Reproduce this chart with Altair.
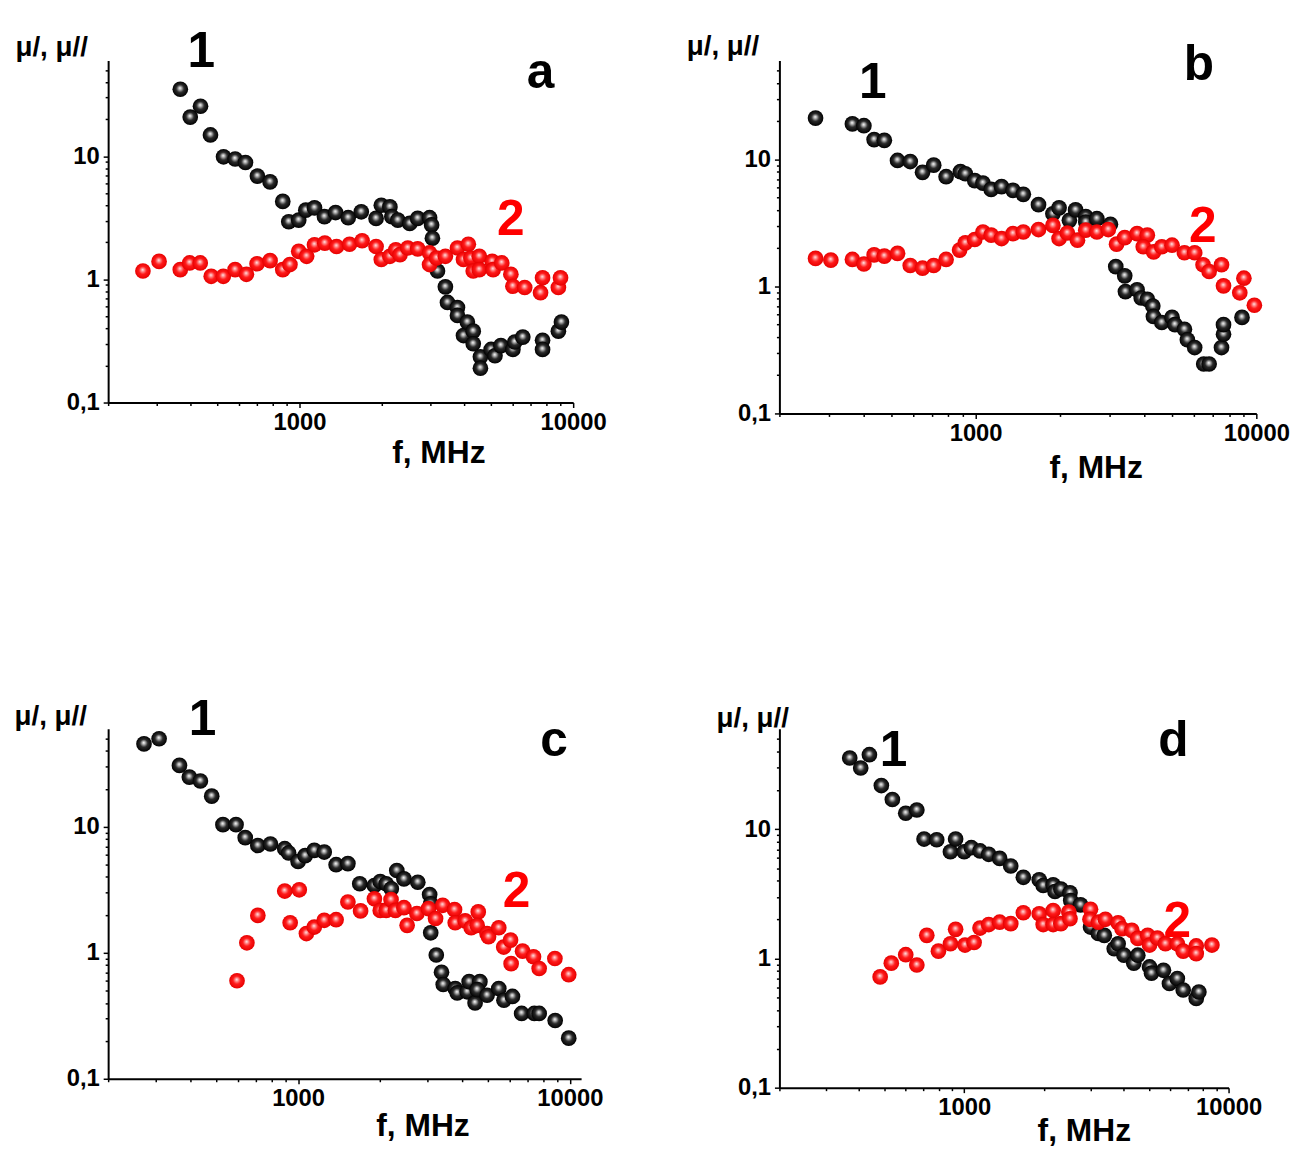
import altair as alt
import pandas as pd

# ---------------- data ----------------
a_f1 = [367, 399, 435, 473, 528, 582, 635, 702, 781, 869, 914, 994, 1055, 1135, 1234, 1355, 1507, 1682, 1905, 1991,
        2140, 2176, 2288, 2529, 2704, 2988, 3039, 3060, 3194, 3413, 3474, 3778, 3778, 3975, 4105, 4314, 4314, 4583, 4583,
        5016, 5180, 5445, 6022, 6120, 6545, 7730, 7730, 8830, 9060]
a_m1 = [35, 20.8, 25.5, 14.9, 9.9, 9.5, 8.9, 6.9, 6.2, 4.3, 2.94, 3.03, 3.65, 3.81, 3.23, 3.49, 3.17, 3.54, 3.13, 4.0,
        3.88, 3.23, 3.03, 2.85, 3.13, 3.17, 2.77, 2.16, 1.17, 0.87, 0.65, 0.59, 0.51, 0.35, 0.45, 0.38, 0.30, 0.235, 0.19,
        0.27, 0.24, 0.29, 0.27, 0.31, 0.34, 0.32, 0.27, 0.38, 0.45]
a_f2 = [268, 307, 367, 397, 434, 476, 527, 582, 640, 700, 781, 869, 923, 994, 1062, 1135, 1238, 1366, 1524, 1694,
        1905, 1991, 2140, 2249, 2330, 2488, 2704, 2988, 2988, 3170, 3413, 3778, 3975, 4140, 4230, 4314, 4540, 4540, 5060,
        5100, 5485, 5920, 6022, 6650, 7600, 7730, 8830, 8990]
a_m2 = [1.17, 1.40, 1.20, 1.36, 1.36, 1.06, 1.06, 1.20, 1.10, 1.34, 1.42, 1.20, 1.32, 1.69, 1.54, 1.91, 1.97, 1.85, 1.93,
        2.06, 1.85, 1.45, 1.54, 1.74, 1.59, 1.80, 1.77, 1.64, 1.32, 1.49, 1.54, 1.80, 1.45, 1.93, 1.49, 1.17, 1.54, 1.20,
        1.40, 1.20, 1.36, 1.10, 0.88, 0.86, 0.78, 1.03, 0.86, 1.03]

b_f1 = [269, 364, 400, 435, 473, 527, 585, 647, 709, 785, 883, 919, 993, 1062, 1136, 1237, 1359, 1479, 1675, 1885,
        1983, 2158, 2270, 2468, 2468, 2704, 3022, 3157, 3398, 3418, 3760, 3890, 4090, 4277, 4300, 4605, 5010, 5130, 5545,
        5680, 6030, 6495, 6790, 7515, 7640, 7640, 8890]
b_m1 = [21.1, 19.0, 18.4, 14.3, 14.1, 9.8, 9.6, 7.9, 9.0, 7.3, 8.0, 7.7, 6.8, 6.5, 5.8, 6.1, 5.7, 5.3, 4.4, 3.73,
        4.15, 3.31, 4.0, 3.55, 3.21, 3.41, 3.08, 1.43, 1.21, 0.91, 0.94, 0.81, 0.79, 0.70, 0.58, 0.52, 0.57, 0.50, 0.46,
        0.38, 0.33, 0.245, 0.245, 0.33, 0.42, 0.50, 0.57]
b_f2 = [269, 305, 364, 400, 435, 473, 527, 585, 647, 709, 785, 877, 919, 993, 1062, 1136, 1237, 1359, 1479, 1675,
        1885, 1983, 2122, 2306, 2468, 2704, 2970, 3178, 3398, 3760, 4090, 3955, 4306, 4605, 5010, 5545, 6030, 6460, 6790,
        7515, 7640, 8730, 9030, 9840]
b_m2 = [1.66, 1.61, 1.63, 1.50, 1.77, 1.73, 1.82, 1.46, 1.39, 1.46, 1.63, 1.93, 2.20, 2.34, 2.68, 2.53, 2.38, 2.60, 2.68,
        2.80, 3.02, 2.38, 2.63, 2.31, 2.77, 2.68, 2.80, 2.15, 2.42, 2.60, 2.53, 2.05, 1.87, 2.05, 2.11, 1.84, 1.84, 1.48,
        1.31, 1.48, 1.01, 0.89, 1.16, 0.71]

c_f1 = [271, 308, 366, 398, 437, 481, 529, 591, 639, 711, 791, 893, 923, 1000, 1062, 1147, 1248, 1380, 1525, 1686,
        1909, 2006, 2109, 2203, 2308, 2452, 2757, 3048, 3076, 3076, 3225, 3371, 3420, 3786, 3851, 4191, 4260, 4480, 4666,
        4560, 4959, 5476, 5720, 6150, 6647, 7400, 7710, 8830, 9905]
c_m1 = [45.5, 50, 30.7, 24.8, 23.1, 17.5, 10.4, 10.4, 8.2, 7.1, 7.3, 6.7, 6.2, 5.3, 5.9, 6.5, 6.3, 5.0, 5.1, 3.53,
        3.42, 3.68, 3.53, 3.22, 4.5, 3.86, 3.63, 2.90, 2.45, 1.44, 0.96, 0.70, 0.56, 0.52, 0.48, 0.49, 0.59, 0.40, 0.59,
        0.51, 0.46, 0.52, 0.42, 0.45, 0.33, 0.33, 0.33, 0.29, 0.21]
c_f2 = [596, 648, 711, 893, 935, 1010, 1073, 1147, 1248, 1380, 1525, 1698, 1909, 2006, 2109, 2198, 2281, 2452, 2519,
        2736, 3019, 3205, 3404, 3764, 3786, 4120, 4335, 4602, 4560, 4959, 5020, 5476, 5710, 6050, 6080, 6700, 7350, 7710,
        8810, 9905]
c_m2 = [0.60, 1.20, 1.98, 3.09, 1.73, 3.16, 1.42, 1.60, 1.81, 1.83, 2.53, 2.15, 2.68, 2.17, 2.17, 2.64, 2.17, 2.28, 1.65,
        2.05, 2.24, 1.87, 2.38, 2.20, 1.73, 1.79, 1.58, 2.11, 1.65, 1.42, 1.34, 1.58, 1.11, 1.26, 0.82, 1.03, 0.93, 0.75,
        0.90, 0.67]

d_f1 = [369, 406, 438, 486, 535, 601, 662, 705, 787, 887, 928, 1000, 1064, 1148, 1238, 1362, 1500, 1674, 1922, 1990,
        2170, 2205, 2321, 2513, 2529, 2755, 3005, 3217, 3388, 3694, 3822, 4021, 4382, 4536, 5025, 5112, 5672, 5976, 6400,
        6736, 7546, 7722]
d_m1 = [35.6, 29.8, 37.8, 21.8, 17.0, 13.3, 14.1, 8.4, 8.3, 6.7, 8.4, 6.7, 7.2, 6.8, 6.4, 5.95, 5.2, 4.25, 4.07, 3.67,
        3.71, 3.30, 3.45, 3.22, 2.81, 2.60, 1.75, 1.56, 1.51, 1.19, 1.30, 1.06, 0.92, 1.06, 0.86, 0.77, 0.81, 0.64, 0.70,
        0.57, 0.49, 0.55]
d_f2 = [481, 530, 601, 662, 722, 799, 887, 928, 1007, 1090, 1148, 1238, 1362, 1500, 1674, 1922, 1990, 2170, 2170, 2321,
        2488, 2513, 3005, 2990, 3217, 3420, 3822, 3954, 4306, 4536, 4944, 5025, 5380, 5770, 6400, 6736, 7546, 7546, 8650]
d_m2 = [0.72, 0.92, 1.07, 0.89, 1.51, 1.14, 1.30, 1.68, 1.27, 1.33, 1.72, 1.83, 1.91, 1.86, 2.26, 2.22, 1.83, 2.35, 1.83,
        1.86, 2.29, 2.03, 2.40, 2.01, 1.91, 2.01, 1.89, 1.70, 1.65, 1.43, 1.51, 1.27, 1.44, 1.30, 1.30, 1.14, 1.25, 1.09,
        1.27]

# annotation texts and their data positions
panel_letters = ["a", "b", "c", "d"]
letter_pos = [(7600, 47), (6240, 55), (8750, 47.7), (6180, 47.8)]
one_pos = [(438, 70), (430, 39.6), (445, 70.8), (540, 40)]
two_pos = [(5920, 3.03), (6450, 2.94), (6370, 3.03), (6400, 1.91)]

x_ticks = [200, 300, 400, 500, 600, 700, 800, 900, 1000, 2000, 3000, 4000, 5000, 6000, 7000, 8000, 9000, 10000]
y_ticks = [0.1, 0.2, 0.3, 0.4, 0.5, 0.6, 0.7, 0.8, 0.9, 1, 2, 3, 4, 5, 6, 7, 8, 9, 10, 20, 30, 40, 50]
x_title = "f, MHz"
y_title = "μ/, μ//"

FONT = "Liberation Sans"

BLACK_BALL = {"gradient": "radial", "x1": 0.48, "y1": 0.42, "r1": 0, "x2": 0.5, "y2": 0.5, "r2": 0.5,
              "stops": [{"offset": 0, "color": "#ffffff"}, {"offset": 0.18, "color": "#b8b8b8"},
                        {"offset": 0.5, "color": "#2a2a2a"}, {"offset": 1, "color": "#000000"}]}
RED_BALL = {"gradient": "radial", "x1": 0.48, "y1": 0.42, "r1": 0, "x2": 0.5, "y2": 0.5, "r2": 0.5,
            "stops": [{"offset": 0, "color": "#ffeeee"}, {"offset": 0.2, "color": "#ff9090"},
                      {"offset": 0.5, "color": "#ff1a1a"}, {"offset": 1, "color": "#e60000"}]}


def panel(f1, m1, f2, m2, idx, xdomain, width, height, xt, yt):
    xscale = alt.Scale(type="log", domain=xdomain, nice=False)
    yscale = alt.Scale(type="log", domain=[0.1, 60], nice=False)
    xaxis = alt.Axis(values=x_ticks, grid=False,
                     labelExpr="datum.value == 1000 ? '1000' : datum.value == 10000 ? '10000' : ''",
                     tickSize={"condition": {"test": "datum.value == 1000 || datum.value == 10000", "value": 5},
                               "value": 3},
                     tickColor="black", tickWidth=1.5, domainColor="black", domainWidth=2,
                     labelFont=FONT, labelFontSize=24, labelFontWeight="bold", labelColor="black",
                     labelPadding=3, labelFlush=False, labelOverlap=False,
                     title=x_title, titleFont=FONT, titleFontSize=32, titleFontWeight="bold", titleColor="black",
                     titleX=xt[0], titleY=xt[1], titleAlign="center", titleBaseline="alphabetic")
    yaxis = alt.Axis(values=y_ticks, grid=False,
                     labelExpr="datum.value == 0.1 ? '0,1' : datum.value == 1 ? '1' : datum.value == 10 ? '10' : ''",
                     tickSize={"condition": {"test": "datum.value == 0.1 || datum.value == 1 || datum.value == 10",
                                             "value": 5}, "value": 3},
                     tickColor="black", tickWidth=1.5, domainColor="black", domainWidth=2,
                     labelFont=FONT, labelFontSize=24, labelFontWeight="bold", labelColor="black",
                     labelPadding=4, labelFlush=False, labelOverlap=False,
                     title=y_title, titleFont=FONT, titleFontSize=28, titleFontWeight="bold", titleColor="black",
                     titleAngle=0, titleX=yt[0], titleY=yt[1], titleAlign="left", titleBaseline="alphabetic")
    X = alt.X("f:Q", scale=xscale, axis=xaxis)
    Y = alt.Y("mu:Q", scale=yscale, axis=yaxis)

    d1 = pd.DataFrame({"f": f1, "mu": m1})
    d2 = pd.DataFrame({"f": f2, "mu": m2})
    black = alt.Chart(d1).mark_circle(size=250, opacity=1, fill=BLACK_BALL).encode(x=X, y=Y)
    red = alt.Chart(d2).mark_circle(size=250, opacity=1, fill=RED_BALL).encode(x=X, y=Y)

    ann = pd.DataFrame({
        "f": [one_pos[idx][0], letter_pos[idx][0], two_pos[idx][0]],
        "mu": [one_pos[idx][1], letter_pos[idx][1], two_pos[idx][1]],
        "t": ["1", panel_letters[idx], "2"],
        "c": ["black", "black", "red"],
    })
    text = alt.Chart(ann).mark_text(font=FONT, fontSize=50, fontWeight="bold", baseline="middle",
                                    align="center").encode(x=X, y=Y, text="t:N",
                                                           color=alt.Color("c:N", scale=None))
    return alt.layer(black, red, text).properties(width=width, height=height)


pa = panel(a_f1, a_m1, a_f2, a_m2, 0, [200, 10000], 469, 345, (333, 60), (-94, -5))
pb = panel(b_f1, b_m1, b_f2, b_m2, 1, [200, 10000], 481, 356, (319, 65), (-94, -6))
pc = panel(c_f1, c_m1, c_f2, c_m2, 2, [200, 11000], 477, 353, (317, 57), (-95, -4))
pd_ = panel(d_f1, d_m1, d_f2, d_m2, 3, [200, 10000], 453, 362, (307, 53), (-64, -2))

chart = alt.concat(pa, pb, pc, pd_, columns=2, spacing={"row": 318, "column": 200}, bounds="flush").properties(
    padding={"left": 6, "top": 14, "right": 5, "bottom": 5},
    background="white",
).configure_view(stroke=None)

chart.save("out.html", embed_options={"renderer": "svg", "actions": False})
